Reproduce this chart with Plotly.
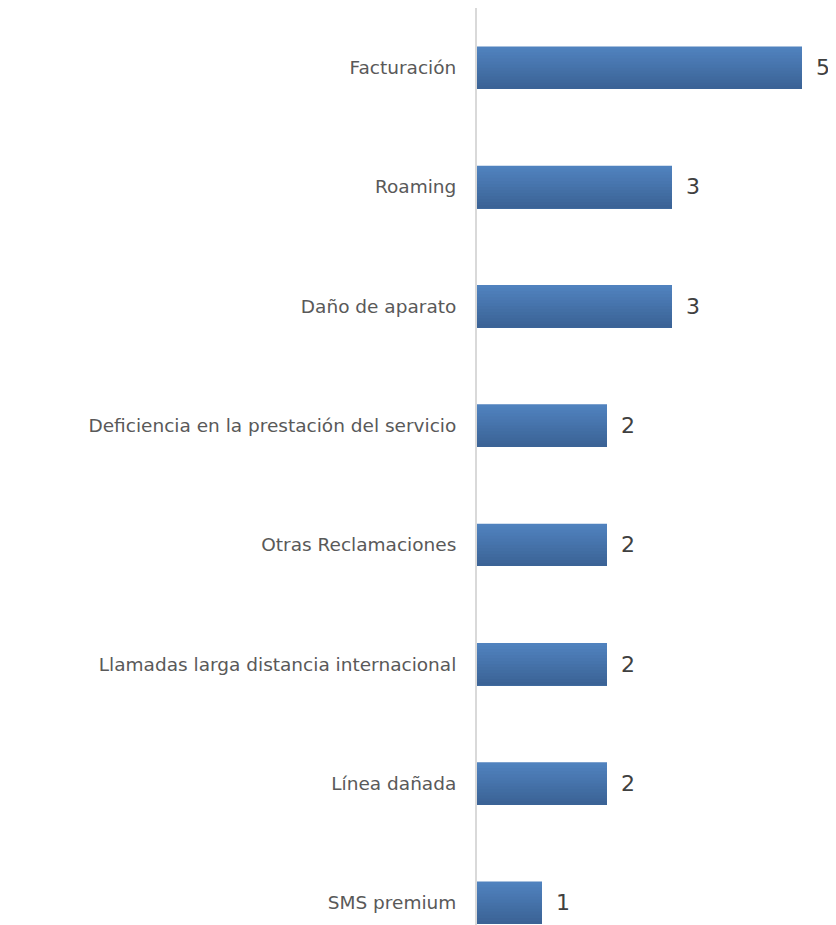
import plotly.graph_objects as go

categories = [
    "Facturación",
    "Roaming",
    "Daño de aparato",
    "Deficiencia en la prestación del servicio",
    "Otras Reclamaciones",
    "Llamadas larga distancia internacional",
    "Línea dañada",
    "SMS premium",
]
values = [5, 3, 3, 2, 2, 2, 2, 1]

top_rgb = (80, 130, 190)
bot_rgb = (59, 99, 150)
N = 14
bar_w = 0.355
step = bar_w / N
FONT = "'DejaVu Sans', sans-serif"

fig = go.Figure()
for k in range(N):
    t = k / (N - 1)
    c = tuple(round(top_rgb[i] + (bot_rgb[i] - top_rgb[i]) * t) for i in range(3))
    fig.add_trace(go.Bar(
        x=values, y=categories, orientation="h",
        width=bar_w - k * step, offset=-bar_w / 2 + k * step,
        marker=dict(color=f"rgb{c}", line=dict(width=0)),
        showlegend=False, hoverinfo="skip" if k else "x+y",
    ))

annotations = [
    dict(x=v, y=cat, xref="x", yref="y", text=str(v), showarrow=False,
         xanchor="left", xshift=12, font=dict(size=22, color="#404040", family=FONT))
    for cat, v in zip(categories, values)
]

fig.update_layout(
    width=828, height=917,
    margin=dict(l=469, r=0, t=0, b=0),
    paper_bgcolor="white", plot_bgcolor="white",
    barmode="overlay",
    annotations=annotations,
    font=dict(family=FONT),
)
fig.update_xaxes(range=[0, 359 / 65], visible=False)
fig.update_yaxes(
    categoryorder="array", categoryarray=categories,
    range=[(917 - 59.65) / 119.3, -0.5],
    showline=True, linecolor="#D9D9D9", linewidth=2,
    showgrid=False, zeroline=False, ticks="",
    tickfont=dict(size=18.5, color="#595959", family=FONT),
    ticklabelstandoff=15, automargin=False,
)
fig.write_html("out.html")
